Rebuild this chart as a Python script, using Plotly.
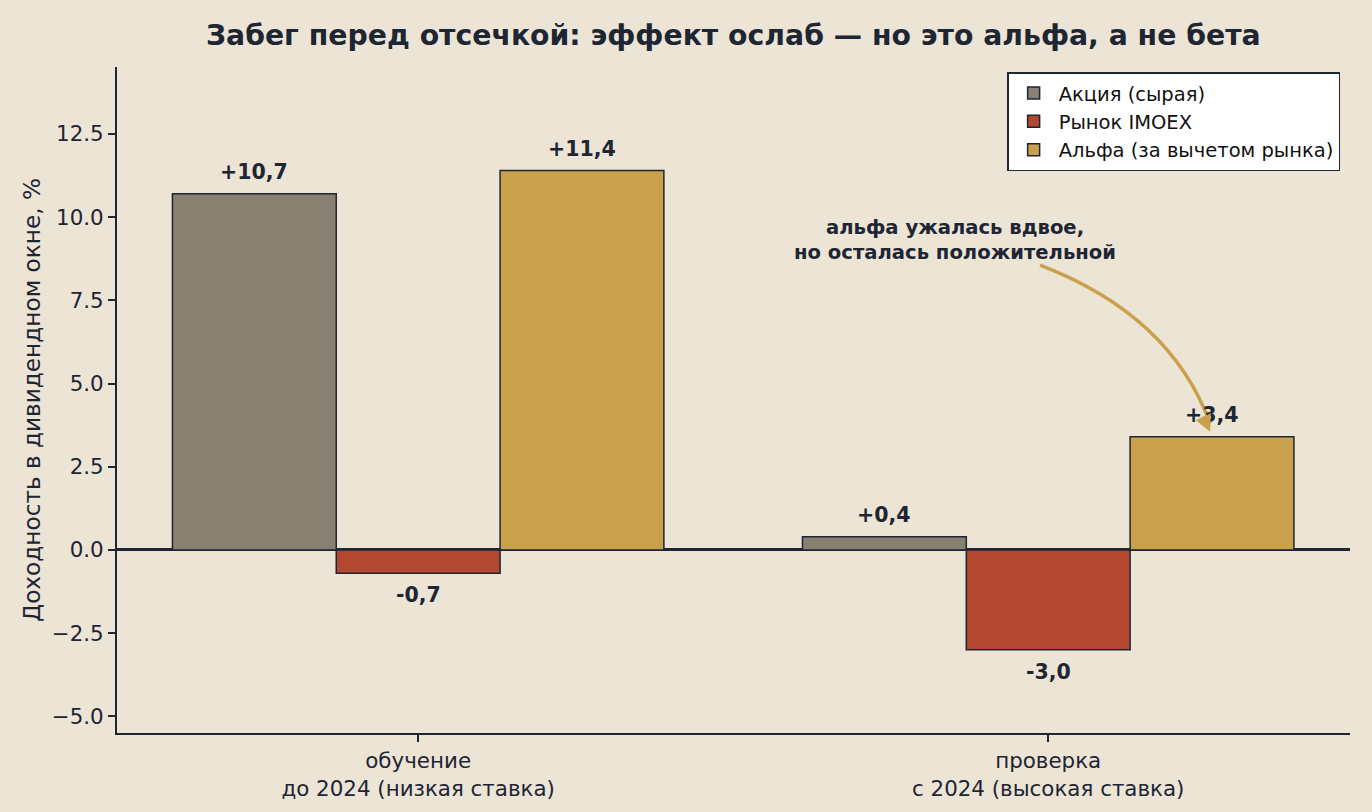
import plotly.graph_objects as go

categories = ["обучение<br>до 2024 (низкая ставка)", "проверка<br>с 2024 (высокая ставка)"]
series_names = ["Акция (сырая)", "Рынок IMOEX", "Альфа (за вычетом рынка)"]
stock = [10.7, 0.4]
market = [-0.7, -3.0]
alpha = [11.4, 3.4]
series_values = [stock, market, alpha]
colors = ["#888070", "#B34730", "#C9A04B"]
dark = "#1E2533"
bg = "#ECE4D5"
font_family = "DejaVu Sans"

width = 0.26
offsets = [-width, 0.0, width]

fig = go.Figure()
for name, vals, col, off in zip(series_names, series_values, colors, offsets):
    xs = [i + off for i in range(len(categories))]
    fig.add_trace(go.Bar(
        x=xs, y=vals, width=width, name=name,
        marker=dict(color=col, line=dict(color=dark, width=1.5)),
    ))
    for x, v in zip(xs, vals):
        label = ("+" if v >= 0 else "-") + f"{abs(v):.1f}".replace(".", ",")
        fig.add_annotation(
            x=x, y=v, text=f"<b>{label}</b>", showarrow=False,
            yshift=22 if v >= 0 else -22,
            font=dict(size=20.5, color=dark, family=font_family),
        )

# curved arrow to the alpha bar of the second period
x0, y0 = 0.987, 8.56
cx, cy = 1.194, 7.06
x1, y1 = 1.257, 3.55
fig.add_shape(
    type="path", xref="x", yref="y",
    path=f"M {x0},{y0} Q {cx},{cy} {x1},{y1+0.25}",
    line=dict(color="#C9A04B", width=3.5),
)
fig.add_annotation(
    x=x1, y=y1, ax=x1 - 0.012, ay=y1 + 0.5, axref="x", ayref="y",
    xref="x", yref="y", text="", showarrow=True,
    arrowhead=2, arrowsize=1.1, arrowwidth=3, arrowcolor="#C9A04B",
)
fig.add_annotation(
    x=0.852, y=9.31, text="<b>альфа ужалась вдвое,<br>но осталась положительной</b>",
    showarrow=False, font=dict(size=19.6, color=dark, family=font_family),
)

fig.update_layout(
    width=1372, height=812,
    paper_bgcolor=bg, plot_bgcolor=bg,
    margin=dict(l=117, r=22, t=67, b=79),
    font=dict(family=font_family, color=dark, size=20),
    title=dict(
        text="<b>Забег перед отсечкой: эффект ослаб — но это альфа, а не бета</b>",
        x=0.5345, xanchor="center", y=0.957, yanchor="middle",
        font=dict(size=28.3, color=dark, family=font_family),
    ),
    barmode="overlay",
    showlegend=True,
    legend=dict(
        x=0.992, xanchor="right", y=0.992, yanchor="top",
        bgcolor="white", bordercolor=dark, borderwidth=1.5,
        font=dict(size=19.5, color="#111111", family=font_family),
        tracegroupgap=0, itemwidth=40,
    ),
    xaxis=dict(
        range=[-0.478, 1.479],
        tickmode="array", tickvals=list(range(len(categories))), ticktext=categories,
        showline=True, linecolor=dark, linewidth=2, mirror=False,
        ticks="outside", ticklen=7, tickwidth=1.5, tickcolor=dark,
        showgrid=False, zeroline=False,
        tickfont=dict(size=21.4, color=dark, family=font_family),
    ),
    yaxis=dict(
        range=[-5.5, 14.51],
        tickmode="array", tickvals=[-5, -2.5, 0, 2.5, 5, 7.5, 10, 12.5],
        ticktext=["−5.0", "−2.5", "0.0", "2.5", "5.0", "7.5", "10.0", "12.5"],
        showline=True, linecolor=dark, linewidth=2, mirror=False,
        ticks="outside", ticklen=7, tickwidth=1.5, tickcolor=dark,
        showgrid=False, zeroline=True, zerolinecolor=dark, zerolinewidth=2.5,
        tickfont=dict(size=21.4, color=dark, family=font_family),
        title=dict(text="Доходность в дивидендном окне, %", standoff=5,
                   font=dict(size=23.2, color=dark, family=font_family)),
    ),
)

fig.write_html("out.html")
